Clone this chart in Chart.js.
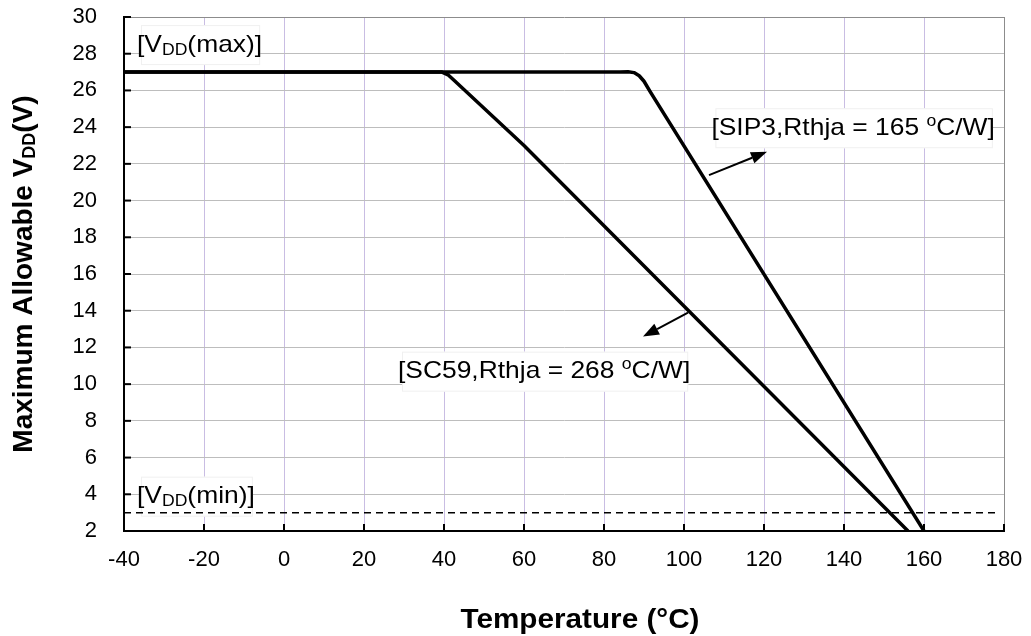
<!DOCTYPE html>
<html>
<head>
<meta charset="utf-8">
<script src="https://cdn.jsdelivr.net/npm/chart.js@4.4.1/dist/chart.umd.min.js"></script>
<style>
  html, body { margin: 0; padding: 0; background: #fff; }
  .chart-wrap { width: 1031px; height: 636px; position: relative; }
</style>
</head>
<body>
<div class="chart-wrap"><canvas id="vddChart" width="1031" height="636"></canvas></div>
<script>
// ---- data ----
const xTicks = [-40, -20, 0, 20, 40, 60, 80, 100, 120, 140, 160, 180];
const yTicks = [2, 4, 6, 8, 10, 12, 14, 16, 18, 20, 22, 24, 26, 28, 30];

// SIP3 package, Rthja = 165 C/W
const sip3Temp = [-40, 84, 86, 87.5, 88.8, 90, 91.5, 160];
const sip3Vdd  = [27, 27, 27.02, 26.97, 26.8, 26.5, 25.95, 2];

// SC59 package, Rthja = 268 C/W
const sc59Temp = [-40, 39.5, 41, 42.5, 60, 156];
const sc59Vdd  = [27, 27, 26.85, 26.55, 23, 2];

// VDD(min) dashed limit
const vddMinTemp = [-40, 178.5];
const vddMinV    = [3, 3];

// annotation labels (data coords of left edge / vertical middle)
const labels = [
  { parts: [['[V', 0], ['DD', -1], ['(max)]', 0]], t: -36.75, v: 28.47 },
  { parts: [['[V', 0], ['DD', -1], ['(min)]', 0]], t: -36.75, v: 3.87 },
  { parts: [['[SIP3,Rthja = 165 ', 0], ['o', 1], ['C/W]', 0]], t: 106.85, v: 23.94 },
  { parts: [['[SC59,Rthja = 268 ', 0], ['o', 1], ['C/W]', 0]], t: 28.5, v: 10.68 }
];

// arrows: from the curve to the label
const arrows = [
  { from: [106.25, 21.39], to: [120.75, 22.66] },
  { from: [101, 13.89], to: [89.75, 12.59] }
];

const toXY = (xs, ys) => xs.map((x, i) => ({ x, y: ys[i] }));

const FONT = 'Arial, "Liberation Sans", sans-serif';

// draw a run of text with sub/superscripts, returns width
function drawRich(ctx, parts, x, y, size, bold) {
  let cx = x;
  const w = bold ? 'bold ' : '';
  parts.forEach(([txt, mode]) => {
    const s = mode === 0 ? size : Math.round(size * 0.66);
    ctx.font = w + s + 'px ' + FONT;
    const dy = mode === -1 ? size * 0.22 : (mode === 1 ? -size * 0.28 : 0);
    ctx.fillText(txt, cx, y + dy);
    cx += ctx.measureText(txt).width;
  });
  return cx - x;
}

function measureRich(ctx, parts, size, bold) {
  let w = 0;
  const b = bold ? 'bold ' : '';
  parts.forEach(([txt, mode]) => {
    const s = mode === 0 ? size : Math.round(size * 0.66);
    ctx.font = b + s + 'px ' + FONT;
    w += ctx.measureText(txt).width;
  });
  return w;
}

const STRETCH = 1.1; // the source text is slightly wide

const decorPlugin = {
  id: 'decor',
  beforeDatasetsDraw(chart) {
    const { ctx, chartArea: a, scales: { x, y } } = chart;
    ctx.save();
    // inward tick marks
    ctx.strokeStyle = '#000';
    ctx.lineWidth = 2;
    yTicks.forEach(v => {
      const py = y.getPixelForValue(v);
      ctx.beginPath(); ctx.moveTo(a.left, py); ctx.lineTo(a.left + 7, py); ctx.stroke();
    });
    xTicks.forEach(v => {
      const px = x.getPixelForValue(v);
      ctx.beginPath(); ctx.moveTo(px, a.bottom); ctx.lineTo(px, a.bottom - 7); ctx.stroke();
    });

    // label boxes + text
    ctx.textBaseline = 'middle';
    ctx.textAlign = 'left';
    labels.forEach(l => {
      const px = x.getPixelForValue(l.t);
      const py = y.getPixelForValue(l.v);
      const w = measureRich(ctx, l.parts, 24, false) * STRETCH;
      ctx.fillStyle = '#fff';
      ctx.fillRect(px + 4, py - 20, w - 6, 40);
      ctx.strokeStyle = '#f0f0f0';
      ctx.lineWidth = 1;
      ctx.strokeRect(px + 4.5, py - 19.5, w - 7, 39);
      ctx.fillStyle = '#000';
      ctx.save();
      ctx.translate(px, py);
      ctx.scale(STRETCH, 1);
      drawRich(ctx, l.parts, 0, 0, 24, false);
      ctx.restore();
    });
    ctx.restore();
  },
  afterDatasetsDraw(chart) {
    const { ctx, scales: { x, y } } = chart;
    ctx.save();
    ctx.strokeStyle = '#000';
    ctx.fillStyle = '#000';
    ctx.lineWidth = 2;
    arrows.forEach(ar => {
      const x0 = x.getPixelForValue(ar.from[0]), y0 = y.getPixelForValue(ar.from[1]);
      const x1 = x.getPixelForValue(ar.to[0]), y1 = y.getPixelForValue(ar.to[1]);
      const ang = Math.atan2(y1 - y0, x1 - x0);
      const len = 16, hw = 6;
      const bx = x1 - len * Math.cos(ang), by = y1 - len * Math.sin(ang);
      ctx.beginPath(); ctx.moveTo(x0, y0); ctx.lineTo(bx, by); ctx.stroke();
      ctx.beginPath();
      ctx.moveTo(x1, y1);
      ctx.lineTo(bx + hw * Math.sin(ang), by - hw * Math.cos(ang));
      ctx.lineTo(bx - hw * Math.sin(ang), by + hw * Math.cos(ang));
      ctx.closePath();
      ctx.fill();
    });

    // axis titles
    ctx.textBaseline = 'middle';
    ctx.textAlign = 'left';
    const xt = [['Temperature (°C)', 0]];
    const xw = measureRich(ctx, xt, 28, true) * 1.06;
    ctx.save();
    ctx.translate(580 - xw / 2, 620);
    ctx.scale(1.06, 1);
    drawRich(ctx, xt, 0, 0, 28, true);
    ctx.restore();

    const yt = [['Maximum Allowable V', 0], ['DD', -1], ['(V)', 0]];
    const yw = measureRich(ctx, yt, 28, true);
    ctx.translate(24, 274);
    ctx.rotate(-Math.PI / 2);
    drawRich(ctx, yt, -yw / 2, 0, 28, true);
    ctx.restore();
  }
};

new Chart(document.getElementById('vddChart'), {
  type: 'scatter',
  data: {
    datasets: [
      {
        label: 'SIP3',
        data: toXY(sip3Temp, sip3Vdd),
        showLine: true, borderColor: '#000', borderWidth: 3.5,
        pointRadius: 0, tension: 0, borderJoinStyle: 'round'
      },
      {
        label: 'SC59',
        data: toXY(sc59Temp, sc59Vdd),
        showLine: true, borderColor: '#000', borderWidth: 3.5,
        pointRadius: 0, tension: 0, borderJoinStyle: 'round'
      },
      {
        label: 'VDD(min)',
        data: toXY(vddMinTemp, vddMinV),
        showLine: true, borderColor: '#000', borderWidth: 1.5,
        borderDash: [7, 5], pointRadius: 0
      }
    ]
  },
  options: {
    responsive: false,
    animation: false,
    events: [],
    layout: { padding: { top: 17, right: 27, left: 0, bottom: 0 } },
    plugins: { legend: { display: false }, tooltip: { enabled: false } },
    scales: {
      x: {
        type: 'linear', min: -40, max: 180,
        afterBuildTicks: s => { s.ticks = xTicks.map(v => ({ value: v })); },
        afterFit: s => { s.height = 105; s.paddingLeft = 0; s.paddingRight = 0; },
        ticks: { color: '#000', font: { family: FONT, size: 22 }, padding: 16, maxRotation: 0 },
        grid: {
          drawTicks: false, lineWidth: 1,
          color: c => (c.tick && c.tick.value === 180) ? '#8c8c8c' : '#c9bde3'
        },
        border: { color: '#000', width: 2 }
      },
      y: {
        min: 2, max: 30,
        afterBuildTicks: s => { s.ticks = yTicks.map(v => ({ value: v })); },
        afterFit: s => { s.width = 124; s.paddingTop = 0; s.paddingBottom = 0; },
        ticks: { color: '#000', font: { family: FONT, size: 22 }, padding: 27 },
        grid: {
          drawTicks: false, lineWidth: 1,
          color: c => (c.tick && c.tick.value === 30) ? '#8c8c8c' : '#bdbdbd'
        },
        border: { color: '#000', width: 2 }
      }
    }
  },
  plugins: [decorPlugin]
});
</script>
</body>
</html>
